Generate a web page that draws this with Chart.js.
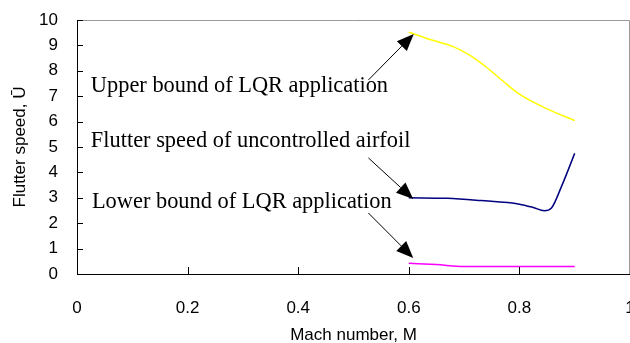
<!DOCTYPE html>
<html>
<head>
<meta charset="utf-8">
<script src="https://cdn.jsdelivr.net/npm/chart.js@4"></script>
<style>
  html, body { margin: 0; padding: 0; background: #fff; }
  #wrap { width: 630px; height: 343px; }
</style>
</head>
<body>
<div id="wrap"><canvas id="flutterChart"></canvas></div>
<script>
// Mach number samples and flutter speeds for each curve
const upperMach = [0.6, 0.64, 0.68, 0.71, 0.74, 0.77, 0.8, 0.85, 0.9];
const upperSpeed = [9.52, 9.22, 8.95, 8.62, 8.15, 7.6, 7.08, 6.5, 6.04];

const freeMach = [0.6, 0.67, 0.73, 0.8, 0.825, 0.845, 0.858, 0.876, 0.9];
const freeSpeed = [3.0, 2.98, 2.89, 2.75, 2.62, 2.49, 2.6, 3.44, 4.75];

const lowerMach = [0.6, 0.65, 0.7, 0.8, 0.9];
const lowerSpeed = [0.42, 0.37, 0.3, 0.3, 0.3];

const xTicks = [0, 0.2, 0.4, 0.6, 0.8, 1];
const yTicks = [0, 1, 2, 3, 4, 5, 6, 7, 8, 9, 10];

const labels = [
  "Upper bound of LQR application",
  "Flutter speed of uncontrolled airfoil",
  "Lower bound of LQR application"
];

function pts(xs, ys) {
  return xs.map((x, i) => ({ x: x, y: ys[i] }));
}

// callouts: text anchor and arrow, in data units
const callouts = [
  { text: labels[0], at: [0.025, 7.17], from: [0.527, 7.64], to: [0.609, 9.45] },
  { text: labels[1], at: [0.025, 5.01], from: [0.527, 4.57], to: [0.608, 2.95] },
  { text: labels[2], at: [0.027, 2.6], from: [0.527, 2.4], to: [0.608, 0.63] }
];

const sans = "'Liberation Sans', Arial, sans-serif";

const framePlugin = {
  id: "frame",
  afterDraw(chart) {
    const c = chart.ctx;
    const a = chart.chartArea;
    const sx = chart.scales.x;
    const sy = chart.scales.y;
    c.save();
    // grey top and right edges
    c.strokeStyle = "#999";
    c.lineWidth = 1;
    c.beginPath();
    c.moveTo(a.left, a.top + 0.5);
    c.lineTo(a.right - 0.5, a.top + 0.5);
    c.lineTo(a.right - 0.5, a.bottom);
    c.stroke();
    // inward tick marks
    c.strokeStyle = "#000";
    c.beginPath();
    sx.ticks.forEach(t => {
      const px = Math.round(sx.getPixelForValue(t.value)) + 0.5;
      c.moveTo(px, a.bottom);
      c.lineTo(px, a.bottom - 7);
    });
    sy.ticks.forEach(t => {
      const py = Math.round(sy.getPixelForValue(t.value)) + 0.5;
      c.moveTo(a.left, py);
      c.lineTo(a.left + 6, py);
    });
    c.stroke();
    // callout text and arrows
    c.font = "22.4px 'Liberation Serif', 'Times New Roman', serif";
    c.fillStyle = "#000";
    c.textBaseline = "alphabetic";
    callouts.forEach(k => {
      c.fillText(k.text, sx.getPixelForValue(k.at[0]), sy.getPixelForValue(k.at[1]));
      const x1 = sx.getPixelForValue(k.from[0]), y1 = sy.getPixelForValue(k.from[1]);
      const x2 = sx.getPixelForValue(k.to[0]), y2 = sy.getPixelForValue(k.to[1]);
      const ang = Math.atan2(y2 - y1, x2 - x1);
      const len = 17, half = 7;
      const bx = x2 - len * Math.cos(ang), by = y2 - len * Math.sin(ang);
      c.lineWidth = 1;
      c.beginPath();
      c.moveTo(x1, y1);
      c.lineTo(bx, by);
      c.stroke();
      c.beginPath();
      c.moveTo(x2, y2);
      c.lineTo(bx + half * Math.sin(ang), by - half * Math.cos(ang));
      c.lineTo(bx - half * Math.sin(ang), by + half * Math.cos(ang));
      c.closePath();
      c.fill();
    });
    c.restore();
  }
};

const ctx = document.getElementById("flutterChart");
const flutterChart = new Chart(ctx, {
  type: "scatter",
  data: {
    datasets: [
      { label: labels[0], data: pts(upperMach, upperSpeed), borderColor: "#ffff00" },
      { label: labels[1], data: pts(freeMach, freeSpeed), borderColor: "#000080" },
      { label: labels[2], data: pts(lowerMach, lowerSpeed), borderColor: "#ff00ff" }
    ]
  },
  options: {
    responsive: true,
    maintainAspectRatio: false,
    animation: false,
    showLine: true,
    elements: {
      point: { radius: 0 },
      line: { borderWidth: 1.5, cubicInterpolationMode: "monotone", fill: false }
    },
    layout: { padding: { top: 20, right: 0, left: 0, bottom: 0 } },
    plugins: {
      legend: { display: false },
      tooltip: { enabled: false }
    },
    scales: {
      x: {
        type: "linear",
        min: 0,
        max: 1,
        afterBuildTicks: s => { s.ticks = xTicks.map(v => ({ value: v })); },
        afterFit: s => { s.paddingRight = 0; s.paddingLeft = 0; s.height = 69; },
        grid: { drawOnChartArea: false, drawTicks: false },
        border: { color: "#000", width: 1 },
        ticks: {
          color: "#000",
          padding: 24,
          maxRotation: 0,
          autoSkip: false,
          font: { family: sans, size: 17 },
          callback: v => String(v)
        },
        title: {
          display: true,
          text: "Mach number, M",
          color: "#000",
          padding: { top: 0, bottom: -3 },
          font: { family: sans, size: 17 }
        }
      },
      y: {
        min: 0,
        max: 10,
        afterBuildTicks: s => { s.ticks = yTicks.map(v => ({ value: v })); },
        afterFit: s => { s.paddingTop = 0; s.paddingBottom = 0; s.width = 77; },
        grid: { drawOnChartArea: false, drawTicks: false },
        border: { color: "#000", width: 1 },
        ticks: {
          color: "#000",
          padding: 19,
          autoSkip: false,
          font: { family: sans, size: 17 }
        },
        title: {
          display: true,
          text: "Flutter speed, Ū",
          color: "#000",
          padding: { top: 10, bottom: 0 },
          font: { family: sans, size: 17 }
        }
      }
    }
  },
  plugins: [framePlugin]
});
</script>
</body>
</html>
